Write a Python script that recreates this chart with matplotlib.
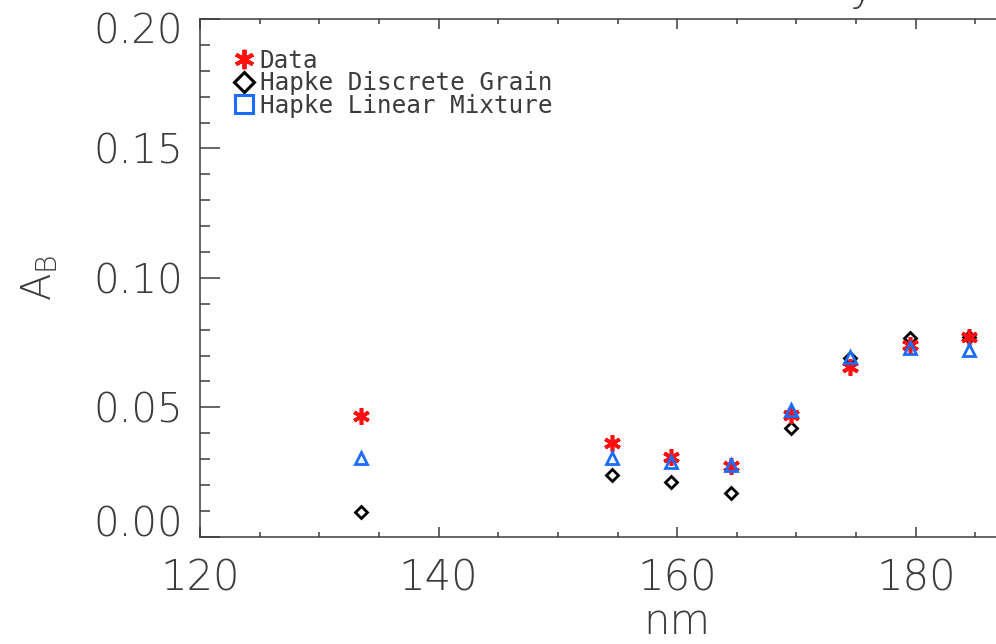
import numpy as np
import matplotlib.pyplot as plt
from matplotlib.lines import Line2D
from matplotlib.ticker import MultipleLocator
import matplotlib.transforms as mtransforms

# wavelength (nm) and bond albedo values
nm = [133.5, 154.5, 159.5, 164.5, 169.5, 174.5, 179.5, 184.5]
data = [0.0468, 0.0361, 0.0307, 0.0273, 0.0470, 0.0657, 0.0741, 0.0773]
discrete = [0.0097, 0.0238, 0.0213, 0.0168, 0.0419, 0.0690, 0.0767, 0.0770]
linear = [0.0303, 0.0303, 0.0290, 0.0277, 0.0490, 0.0696, 0.0728, 0.0721]

labels = ['Data', 'Hapke Discrete Grain', 'Hapke Linear Mixture']

ink = '#3c3c3c'
red = '#ff1010'
blue = '#1a6cff'

plt.rcParams['font.family'] = 'DejaVu Sans'
plt.rcParams['font.weight'] = 200
plt.rcParams['axes.labelweight'] = 200
plt.rcParams['mathtext.default'] = 'regular'


def main():
    fig = plt.figure(figsize=(9.96, 6.44), dpi=100)
    ax = fig.add_axes([0.2008, 0.1666, 0.9582, 0.8039])

    star = (6, 2, 0)
    ax.plot(nm, data, ls='none', marker=star, ms=12, mew=2.6,
            color=red, zorder=3)
    ax.plot(nm, linear, ls='none', marker='^', ms=9, mew=2.0,
            mfc='none', mec=blue, zorder=4)
    ax.plot(nm, discrete, ls='none', marker='D', ms=6.5, mew=2.0,
            mfc='none', mec='black', zorder=2)

    ax.set_xlim(120, 200)
    ax.set_ylim(0.0, 0.20)
    ax.set_xticks([120, 140, 160, 180])
    ax.xaxis.set_minor_locator(MultipleLocator(5))
    ax.set_yticks([0.0, 0.05, 0.10, 0.15, 0.20])
    ax.set_yticklabels(['0.00', '0.05', '0.10', '0.15', '0.20'])
    ax.yaxis.set_minor_locator(MultipleLocator(0.01))

    for s in ax.spines.values():
        s.set_color(ink)
        s.set_linewidth(1.1)

    ax.tick_params(axis='x', which='major', direction='in', length=7.2,
                   width=1.1, color=ink, labelsize=30, labelcolor=ink,
                   pad=15, top=True)
    ax.tick_params(axis='x', which='minor', direction='in', length=3.6,
                   width=1.1, color=ink, top=True)
    ax.tick_params(axis='y', which='major', direction='in', length=14.4,
                   width=1.1, color=ink, labelsize=29, labelcolor=ink,
                   pad=12)
    ax.tick_params(axis='y', which='minor', direction='in', length=7.2,
                   width=1.1, color=ink)

    # IDL nudges the end labels inside the axis range
    ylabs = ax.get_yticklabels()
    ylabs[0].set_va('baseline')
    ylabs[-1].set_transform(ylabs[-1].get_transform() +
                            mtransforms.ScaledTranslation(0, -9 / 100,
                                                          fig.dpi_scale_trans))

    ax.set_xlabel('nm', fontsize=30, color=ink, fontweight=200, labelpad=2)
    ax.set_ylabel('A$_{B}$', fontsize=29, color=ink, fontweight=200,
                  labelpad=24)

    handles = [
        Line2D([], [], ls='none', marker=star, ms=14, mew=2.8, color=red),
        Line2D([], [], ls='none', marker='D', ms=10, mew=2.2,
               mfc='none', mec='black'),
        Line2D([], [], ls='none', marker='s', ms=12.5, mew=2.2,
               mfc='none', mec=blue),
    ]
    leg = ax.legend(handles, labels, loc='upper left',
                    bbox_to_anchor=(0.036, 0.943), frameon=False,
                    prop={'family': 'DejaVu Sans Mono', 'size': 17.5,
                          'weight': 200},
                    handlelength=0.8, handletextpad=0.25,
                    labelspacing=-0.06, borderpad=0, borderaxespad=0)
    for t in leg.get_texts():
        t.set_color(ink)

    # bottom of the cropped title
    fig.text(0.866, 1 - 1 / 644, 'y', fontsize=30, color=ink,
             fontweight=200, ha='center', va='baseline')

    fig.savefig('out.png', dpi=100)


if __name__ == '__main__':
    main()
